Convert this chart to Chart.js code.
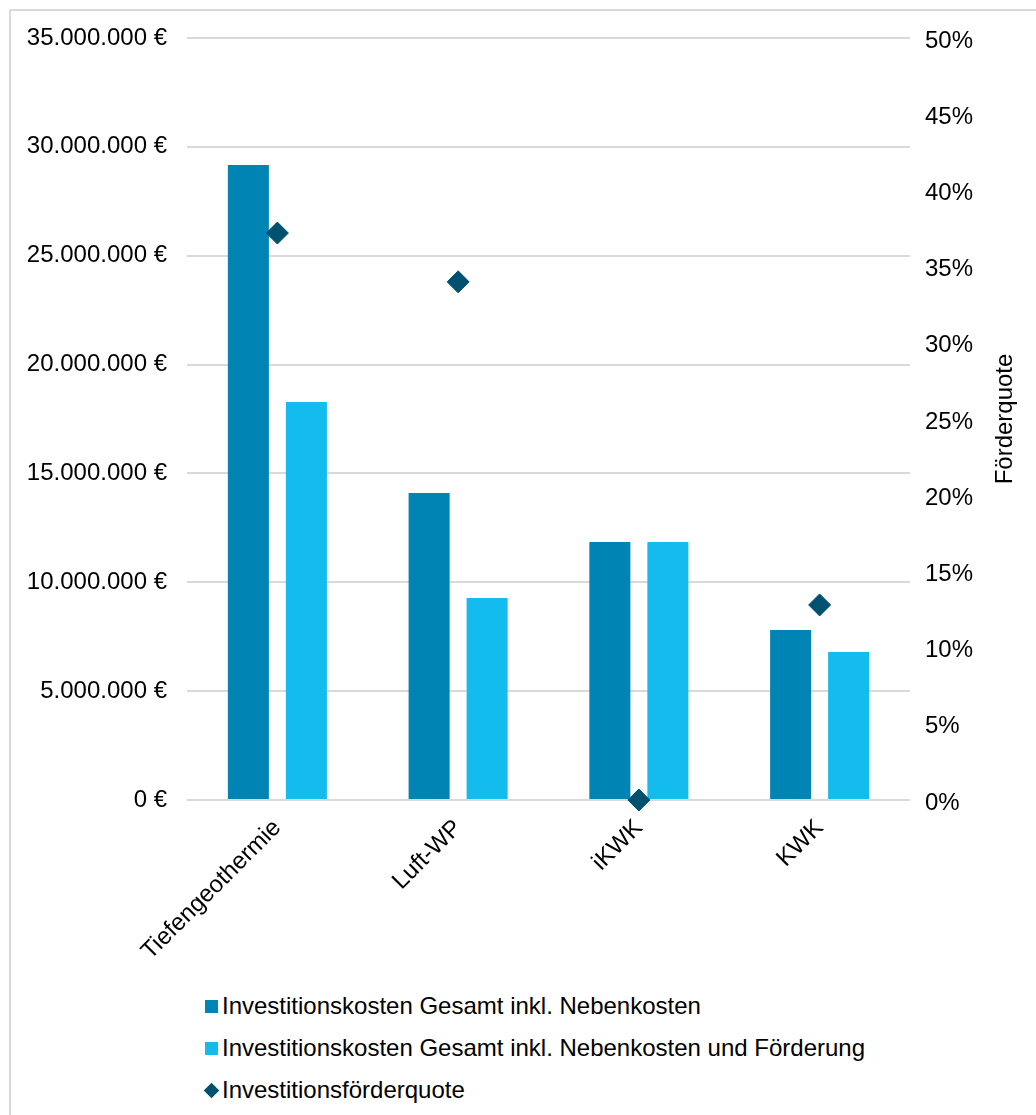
<!DOCTYPE html>
<html lang="de">
<head>
<meta charset="utf-8">
<title>Investitionskosten und Förderquote</title>
<script src="https://cdn.jsdelivr.net/npm/chart.js@4/dist/chart.umd.min.js"></script>
<style>
  html, body { margin:0; padding:0; background:#fff; }
  body { width:1036px; height:1115px; position:relative; overflow:hidden; font-family:"Liberation Sans", Arial, sans-serif; }
  #frame { position:absolute; left:9px; top:9px; right:-5px; bottom:-5px; border-left:2px solid #d9d9d9; border-top:2px solid #d9d9d9; }
  #wrap { position:absolute; left:0; top:0; }
  #legend { position:absolute; left:205px; top:985px; font-size:24px; color:#000; }
  .leg-item { display:flex; align-items:center; height:42px; }
  .leg-box { width:13px; height:13px; margin-right:4px; }
  .leg-dia { width:11px; height:11px; transform:rotate(45deg); margin:0 5px 0 1px; }
</style>
</head>
<body>
<div id="frame"></div>
<div id="wrap"><canvas id="chart" width="1036" height="975"></canvas></div>
<div id="legend"></div>

<script>
// ====== Daten ======
const categories = ['Tiefengeothermie', 'Luft-WP', 'iKWK', 'KWK'];
const kostenGesamt = [29170000, 14100000, 11850000, 7810000];      // inkl. Nebenkosten
const kostenNachFoerderung = [18280000, 9280000, 11850000, 6800000]; // inkl. Nebenkosten und Förderung
const foerderquote = [37.2, 34.0, 0, 12.8];                           // in %

const seriesLabels = [
  'Investitionskosten Gesamt inkl. Nebenkosten',
  'Investitionskosten Gesamt inkl. Nebenkosten und Förderung',
  'Investitionsförderquote'
];
const colors = ['#0084B4', '#13BBEE', '#00516F'];
const rightTitle = 'Förderquote';

const FONT = '"Liberation Sans", Arial, sans-serif';

// 35000000 -> "35.000.000 €"
function euro(v){
  return String(Math.round(v)).replace(/\B(?=(\d{3})+(?!\d))/g, '.') + ' €';
}

// Titel der rechten Achse (von unten nach oben lesbar)
const rightTitlePlugin = {
  id: 'rightTitle',
  afterDraw(chart){
    const {ctx, chartArea} = chart;
    ctx.save();
    ctx.translate(1005, (chartArea.top + chartArea.bottom) / 2);
    ctx.rotate(-Math.PI / 2);
    ctx.font = '24px ' + FONT;
    ctx.fillStyle = '#000';
    ctx.textAlign = 'center';
    ctx.textBaseline = 'middle';
    ctx.fillText(rightTitle, 0, 0);
    ctx.restore();
  }
};

const chart = new Chart(document.getElementById('chart').getContext('2d'), {
  type: 'bar',
  data: {
    labels: categories,
    datasets: [
      { label: seriesLabels[0], data: kostenGesamt, backgroundColor: colors[0], yAxisID: 'y', order: 2,
        categoryPercentage: 0.642, barPercentage: 0.707 },
      { label: seriesLabels[1], data: kostenNachFoerderung, backgroundColor: colors[1], yAxisID: 'y', order: 2,
        categoryPercentage: 0.642, barPercentage: 0.707 },
      { type: 'line', label: seriesLabels[2], data: foerderquote, yAxisID: 'y1', order: 0, clip: false,
        showLine: false, pointStyle: 'rectRot', pointRadius: 11, pointHoverRadius: 11,
        backgroundColor: colors[2], borderColor: colors[2], borderWidth: 1 }
    ]
  },
  options: {
    responsive: false,
    animation: false,
    layout: { padding: { top: 38, left: 0, right: 0, bottom: 0 } },
    plugins: { legend: { display: false }, tooltip: { enabled: false } },
    scales: {
      x: {
        grid: { display: false },
        border: { display: false },
        ticks: { color: '#000', font: { family: FONT, size: 24 }, minRotation: 45, maxRotation: 45, padding: 6 },
        afterFit(s){ s.height = 175; }
      },
      y: {
        position: 'left',
        min: 0, max: 35000000,
        ticks: { stepSize: 5000000, color: '#000', font: { family: FONT, size: 24 }, padding: 20,
                 callback: v => euro(v) },
        grid: { color: '#d9d9d9', lineWidth: 2, drawTicks: false },
        border: { display: false },
        afterFit(s){ s.width = 187; }
      },
      y1: {
        position: 'right',
        min: 0, max: 50,
        ticks: { stepSize: 5, color: '#000', font: { family: FONT, size: 24 }, padding: 15, labelOffset: 3,
                 callback: v => v + '%' },
        grid: { display: false, drawTicks: false },
        border: { display: false },
        afterFit(s){ s.width = 126; }
      }
    }
  },
  plugins: [rightTitlePlugin]
});

// ====== Legende (eine Zeile pro Eintrag) ======
const legendBox = document.getElementById('legend');
chart.data.datasets.forEach((ds, i) => {
  const row = document.createElement('div');
  row.className = 'leg-item';
  const mark = document.createElement('span');
  mark.className = ds.pointStyle === 'rectRot' ? 'leg-dia' : 'leg-box';
  mark.style.background = ds.backgroundColor;
  const txt = document.createElement('span');
  txt.textContent = ds.label;
  row.appendChild(mark);
  row.appendChild(txt);
  legendBox.appendChild(row);
});
</script>
</body>
</html>
